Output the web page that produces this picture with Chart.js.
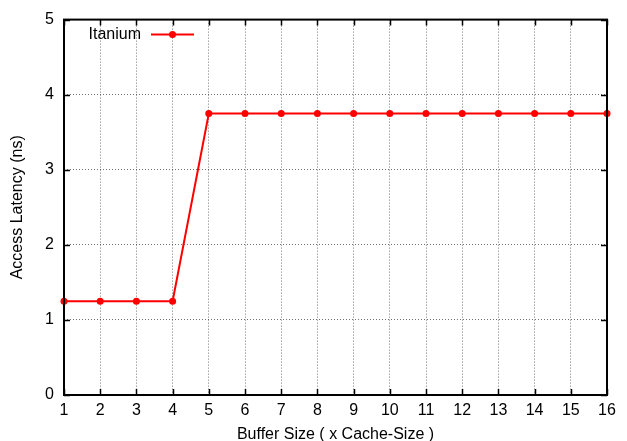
<!DOCTYPE html>
<html>
<head>
<meta charset="utf-8">
<script src="https://cdn.jsdelivr.net/npm/chart.js@4/dist/chart.umd.min.js"></script>
<style>
  body { margin: 0; background: #fff; }
  #wrap { width: 627px; height: 441px; }
</style>
</head>
<body>
<div id="wrap"><canvas id="latencyChart" width="627" height="441"></canvas></div>
<script>
// buffer size in multiples of the cache size
const bufferSizes = [1, 2, 3, 4, 5, 6, 7, 8, 9, 10, 11, 12, 13, 14, 15, 16];
// measured access latency (ns)
const itaniumLatency = [1.25, 1.25, 1.25, 1.25, 3.75, 3.75, 3.75, 3.75, 3.75, 3.75, 3.75, 3.75, 3.75, 3.75, 3.75, 3.75];
const yTicks = [0, 1, 2, 3, 4, 5];

const FONT = 'Liberation Sans, Arial, Helvetica, sans-serif';
const RED = '#ff0000';

// gnuplot-style frame with inward tick marks on all four sides, plus key
const framePlugin = {
    id: 'frame',
    afterDraw(chart) {
        const ctx = chart.ctx;
        const area = chart.chartArea;
        const xs = chart.scales.x;
        const ys = chart.scales.y;
        const tick = 6;

        ctx.save();
        ctx.strokeStyle = '#000';
        ctx.lineWidth = 1.5;
        bufferSizes.forEach(v => {
            const px = Math.round(xs.getPixelForValue(v)) + 0.5;
            ctx.beginPath();
            ctx.moveTo(px, area.bottom);
            ctx.lineTo(px, area.bottom - tick);
            ctx.moveTo(px, area.top);
            ctx.lineTo(px, area.top + tick);
            ctx.stroke();
        });
        yTicks.forEach(v => {
            const py = Math.round(ys.getPixelForValue(v)) + 0.5;
            ctx.beginPath();
            ctx.moveTo(area.left, py);
            ctx.lineTo(area.left + tick, py);
            ctx.moveTo(area.right, py);
            ctx.lineTo(area.right - tick, py);
            ctx.stroke();
        });

        ctx.lineWidth = 2;
        ctx.strokeRect(area.left, area.top, area.right - area.left, area.bottom - area.top);

        // key
        const ds = chart.data.datasets[0];
        const keyY = area.top + 15;
        ctx.font = '16px ' + FONT;
        ctx.fillStyle = '#000';
        ctx.textAlign = 'right';
        ctx.textBaseline = 'middle';
        ctx.fillText(ds.label, area.left + 77, keyY);
        ctx.strokeStyle = RED;
        ctx.lineWidth = 2;
        ctx.beginPath();
        ctx.moveTo(area.left + 87, keyY);
        ctx.lineTo(area.left + 130, keyY);
        ctx.stroke();
        ctx.fillStyle = RED;
        ctx.beginPath();
        ctx.arc(area.left + 108.5, keyY, 3.5, 0, Math.PI * 2);
        ctx.fill();
        ctx.restore();
    }
};

const gridStyle = {
    color: 'rgba(0, 0, 0, 0.55)',
    lineWidth: 1,
    drawTicks: false
};

new Chart(document.getElementById('latencyChart'), {
    type: 'line',
    data: {
        datasets: [{
            label: 'Itanium',
            data: bufferSizes.map((x, i) => ({ x: x, y: itaniumLatency[i] })),
            borderColor: RED,
            backgroundColor: RED,
            borderWidth: 2,
            pointRadius: 3.5,
            pointHoverRadius: 3.5,
            pointBackgroundColor: RED,
            pointBorderWidth: 0,
            tension: 0,
            clip: false
        }]
    },
    options: {
        responsive: false,
        animation: false,
        layout: { padding: { top: 18, right: 20, left: 0, bottom: 0 } },
        plugins: {
            legend: { display: false },
            tooltip: { enabled: false }
        },
        scales: {
            x: {
                type: 'linear',
                min: 1,
                max: 16,
                afterFit: s => { s.height = 46; },
                afterBuildTicks: s => { s.ticks = bufferSizes.map(v => ({ value: v })); },
                ticks: { color: '#000', font: { family: FONT, size: 16 }, padding: 6, maxRotation: 0, autoSkip: false },
                grid: gridStyle,
                border: { display: false, dash: [1, 2] },
                title: {
                    display: true,
                    text: 'Buffer Size ( x Cache-Size )',
                    color: '#000',
                    font: { family: FONT, size: 16, lineHeight: 1 },
                    padding: { top: 0, bottom: -2 }
                }
            },
            y: {
                min: 0,
                max: 5,
                afterFit: s => { s.width = 64; },
                afterBuildTicks: s => { s.ticks = yTicks.map(v => ({ value: v })); },
                ticks: { color: '#000', font: { family: FONT, size: 16 }, padding: 10 },
                grid: gridStyle,
                border: { display: false, dash: [1, 2] },
                title: {
                    display: true,
                    text: 'Access Latency (ns)',
                    color: '#000',
                    font: { family: FONT, size: 16, lineHeight: 1 },
                    padding: { top: 10, bottom: 0 }
                }
            }
        }
    },
    plugins: [framePlugin]
});
</script>
</body>
</html>
